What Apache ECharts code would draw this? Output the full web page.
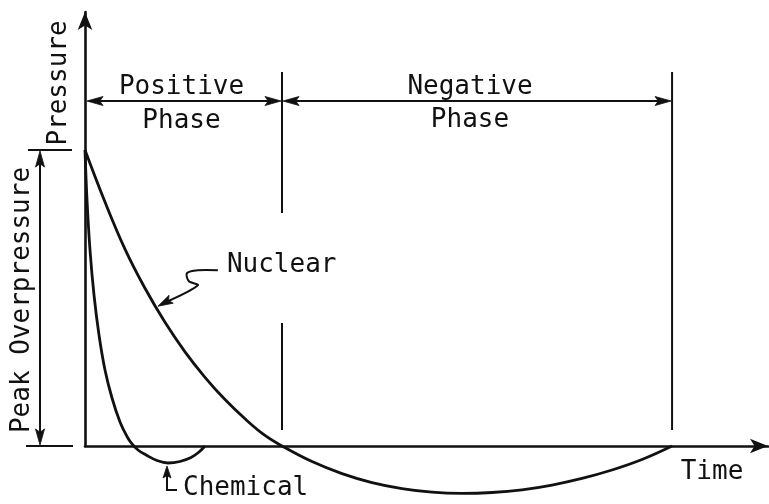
<!DOCTYPE html>
<html><head><meta charset="utf-8">
<script src="https://cdn.jsdelivr.net/npm/echarts@6/dist/echarts.min.js"></script>
<style>html,body{margin:0;padding:0;background:#fff}#c{width:769px;height:504px}</style>
</head><body><div id="c"></div>
<script>
// ---- data (time in units of positive-phase duration, pressure in units of peak overpressure)
const nuclearTime     = [0, 0.1015, 0.2030, 0.3046, 0.4061, 0.5076, 0.6091, 0.7107, 0.8122, 0.9137, 1.0, 1.1523, 1.3046, 1.4569, 1.6091, 1.7614, 1.9137, 2.0660, 2.2183, 2.3706, 2.5228, 2.6751, 2.8274, 2.98];
const nuclearPressure = [1.0, 0.8243, 0.6652, 0.5328, 0.4179, 0.3182, 0.2321, 0.1568, 0.0919, 0.0355, 0, -0.0527, -0.0932, -0.1236, -0.1439, -0.1561, -0.1601, -0.1571, -0.1480, -0.1318, -0.1095, -0.0811, -0.0456, 0];
const chemicalTime     = [0, 0.0102, 0.0254, 0.0457, 0.0711, 0.1015, 0.1371, 0.1777, 0.2132, 0.2386, 0.2690, 0.3096, 0.3655, 0.4213, 0.4822, 0.5381, 0.5787, 0.6091];
const chemicalPressure = [1.0, 0.8311, 0.6622, 0.5101, 0.3750, 0.2568, 0.1622, 0.0811, 0.0321, 0.0068, -0.0135, -0.0304, -0.0490, -0.0574, -0.0524, -0.0389, -0.0203, 0];
const phaseBounds = [0, 1.0, 2.98];          // start, end of positive phase, end of negative phase
const phaseNames  = ['Positive', 'Negative'];
const peakOverpressure = 1.0;
const labels = { x: 'Time', y: 'Pressure', peak: 'Peak Overpressure', phase: 'Phase', nuclear: 'Nuclear', chemical: 'Chemical' };

const INK = '#111';
const FONT = 'DejaVu Sans Mono';
const FS = 26;
const chart = echarts.init(document.getElementById('c'), null, { renderer: 'canvas' });
const XMAX = 683 / 197, YMAX = 434 / 296;

chart.setOption({
  animation: false,
  backgroundColor: '#fff',
  grid: { left: 85, top: 12, width: 683, height: 434 },
  xAxis: { type: 'value', min: 0, max: XMAX,
    axisLine: { show: true, symbol: ['none', 'arrow'], symbolSize: [11, 18], lineStyle: { color: INK, width: 2.6 } },
    axisTick: { show: false }, axisLabel: { show: false }, splitLine: { show: false } },
  yAxis: { type: 'value', min: 0, max: YMAX,
    axisLine: { show: true, symbol: ['none', 'arrow'], symbolSize: [11, 18], lineStyle: { color: INK, width: 2.6 } },
    axisTick: { show: false }, axisLabel: { show: false }, splitLine: { show: false } },
  series: [
    { type: 'line', name: labels.nuclear, data: nuclearTime.map((t, i) => [t, nuclearPressure[i]]),
      smooth: 0.4, showSymbol: false, clip: false, lineStyle: { color: INK, width: 2.8 } },
    { type: 'line', name: labels.chemical, data: chemicalTime.map((t, i) => [t, chemicalPressure[i]]),
      smooth: 0.4, showSymbol: false, clip: false, lineStyle: { color: INK, width: 2.8 } }
  ]
});

function P(t, p) { return chart.convertToPixel({ gridIndex: 0 }, [t, p]); }
const g = [];
function line(pts, w) { g.push({ type: 'polyline', shape: { points: pts }, style: { stroke: INK, lineWidth: w || 2, fill: null } }); }
function arrow(tip, dx, dy, L, W) {
  L = L || 16; W = W || 9;
  const n = Math.hypot(dx, dy); dx /= n; dy /= n;
  const px = -dy, py = dx;
  const b = [tip[0] - dx * L, tip[1] - dy * L];
  const m = [tip[0] - dx * L * 0.8, tip[1] - dy * L * 0.8];
  g.push({ type: 'polygon', shape: { points: [tip, [b[0] + px * W / 2, b[1] + py * W / 2], m, [b[0] - px * W / 2, b[1] - py * W / 2]] },
    style: { fill: INK, stroke: INK, lineWidth: 0.8 } });
}
function text(s, x, y, align, rot) {
  g.push({ type: 'text', x: x, y: y, rotation: rot || 0,
    style: { text: s, x: 0, y: 0, font: FS + 'px "' + FONT + '"', fill: INK, align: align || 'center', verticalAlign: 'middle', textAlign: align || 'center', textVerticalAlign: 'middle' } });
}

// phase boundary verticals
const p0 = P(phaseBounds[0], 0), p1 = P(phaseBounds[1], 0), p2 = P(phaseBounds[2], 0);
const topY = 72, botY = 430;
line([[p1[0], topY], [p1[0], 213]]);
line([[p1[0], 323], [p1[0], botY]]);
line([[p2[0], topY], [p2[0], botY]]);
// phase dimension arrows
const ay = 101;
line([[p0[0] + 4, ay], [p1[0] - 4, ay]]);
arrow([p0[0] + 2, ay], -1, 0); arrow([p1[0] - 1, ay], 1, 0);
line([[p1[0] + 4, ay], [p2[0] - 4, ay]]);
arrow([p1[0] + 1, ay], -1, 0); arrow([p2[0] - 1, ay], 1, 0);
text(phaseNames[0], (p0[0] + p1[0]) / 2 - 2, ay - 14);
text(labels.phase, (p0[0] + p1[0]) / 2 - 2, ay + 20);
text(phaseNames[1], 470, ay - 14);
text(labels.phase, 470, ay + 19);

// peak overpressure dimension
const pk = P(0, peakOverpressure);
const dimX = 40;
line([[28, pk[1]], [72, pk[1]]]);
line([[26, p0[1]], [73, p0[1]]]);
line([[dimX, pk[1] + 6], [dimX, p0[1] - 6]]);
arrow([dimX, pk[1] + 1], 0, -1); arrow([dimX, p0[1] - 1], 0, 1);
text(labels.peak, 22, (pk[1] + p0[1]) / 2 + 2, 'center', Math.PI / 2);
text(labels.y, 59, 83, 'center', Math.PI / 2);

// axis name
text(labels.x, 712, 472);

// nuclear leader (tip touches the curve near t = 0.365)
const nt = P(0.365, 0.462);
const tip = [nt[0] + 1, nt[1] - 3];
g.push({ type: 'polyline', shape: { points: [[tip[0] + 60, tip[1] - 36], [tip[0] + 40, tip[1] - 36], [tip[0] + 29, tip[1] - 33], [tip[0] + 31, tip[1] - 25], [tip[0] + 40, tip[1] - 21], [tip[0] + 10, tip[1] - 5]], smooth: 0.3 },
  style: { stroke: INK, lineWidth: 2, fill: null } });
arrow(tip, -32, 17, 15, 9);
text(labels.nuclear, tip[0] + 69, tip[1] - 41, 'left');

// chemical leader (tip under the chemical minimum)
let mi = 0; chemicalPressure.forEach((v, i) => { if (v < chemicalPressure[mi]) mi = i; });
const cm = P(chemicalTime[mi], chemicalPressure[mi]);
const ct = [cm[0] - 1, cm[1] + 3];
line([[ct[0], ct[1] + 8], [ct[0], ct[1] + 24], [ct[0] + 10, ct[1] + 24]]);
arrow(ct, 0, -1, 12, 8);
text(labels.chemical, ct[0] + 16, ct[1] + 22, 'left');

chart.setOption({ graphic: g });
</script></body></html>
